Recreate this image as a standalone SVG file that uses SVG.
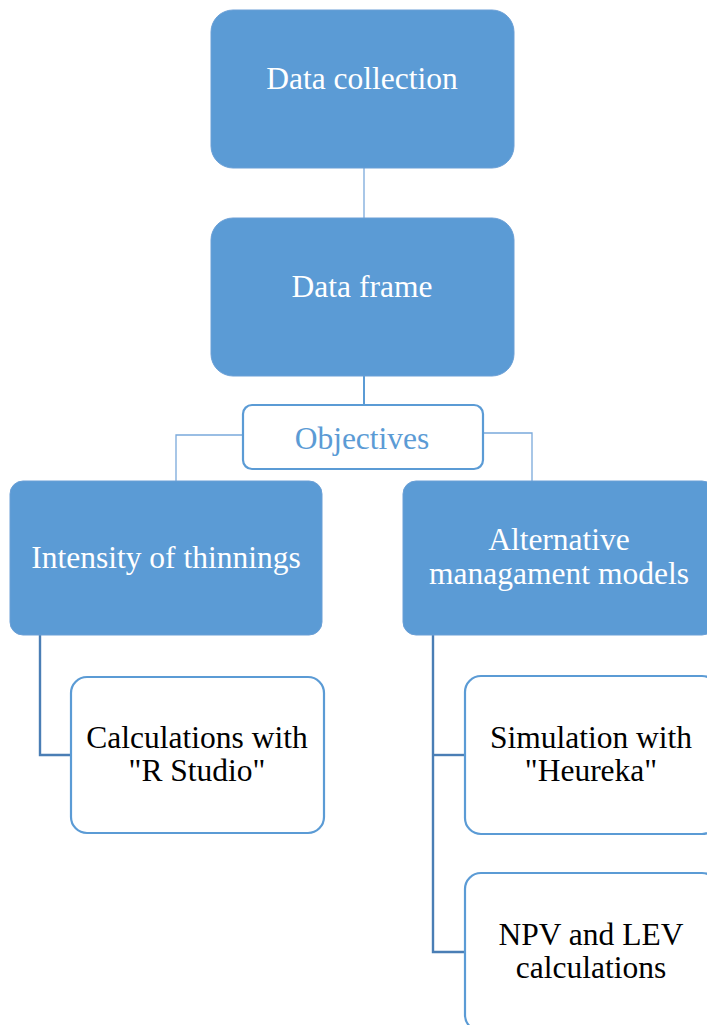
<svg xmlns="http://www.w3.org/2000/svg" width="707" height="1025" viewBox="0 0 707 1025">
  <style>
    .solid { fill: #5B9BD5; stroke: #6A9FD6; stroke-width: 1; }
    .outline { fill: #FFFFFF; stroke: #5B9BD5; stroke-width: 2.2; }
    .label { font-family: "Liberation Serif", "Times New Roman", serif; font-size: 31.5px; text-anchor: middle; }
    .light { fill: #FFFFFF; }
    .dark { fill: #000000; }
    .accent { fill: #5B9BD5; }
    .thin { fill: none; stroke: #7AA9DB; stroke-width: 1.3; }
    .branch { fill: none; stroke: #4A7EB5; stroke-width: 2.4; }
  </style>

  <!-- connectors -->
  <g id="connectors">
    <line class="thin" x1="364" y1="168" x2="364" y2="218"/>
    <line class="thin" x1="364" y1="376" x2="364" y2="405" style="stroke:#5B9BD5;stroke-width:2"/>
    <polyline class="thin" points="243,435 176,435 176,481"/>
    <polyline class="thin" points="483,433 532,433 532,481"/>
    <polyline class="branch" points="40,635 40,755 71,755"/>
    <polyline class="branch" points="433,635 433,952 465,952"/>
    <line class="branch" x1="433" y1="755" x2="465" y2="755"/>
  </g>

  <g id="data-collection">
    <rect class="solid" x="211" y="10" width="303" height="158" rx="22"/>
    <text class="label light" x="362" y="89">Data collection</text>
  </g>

  <g id="data-frame">
    <rect class="solid" x="211" y="218" width="303" height="158" rx="22"/>
    <text class="label light" x="362" y="297">Data frame</text>
  </g>

  <g id="objectives">
    <rect class="outline" x="243" y="405" width="240" height="64" rx="9"/>
    <text class="label accent" x="362" y="449">Objectives</text>
  </g>

  <g id="intensity">
    <rect class="solid" x="10" y="481" width="312" height="154" rx="13"/>
    <text class="label light" x="166" y="568">Intensity of thinnings</text>
  </g>

  <g id="alternative">
    <rect class="solid" x="403" y="481" width="312" height="154" rx="13"/>
    <text class="label light" x="559" y="550">Alternative</text>
    <text class="label light" x="559" y="584">managament models</text>
  </g>

  <g id="r-studio">
    <rect class="outline" x="71" y="677" width="253" height="156" rx="16"/>
    <text class="label dark" x="197" y="748">Calculations with</text>
    <text class="label dark" x="197" y="781">"R Studio"</text>
  </g>

  <g id="heureka">
    <rect class="outline" x="465" y="676" width="253" height="158" rx="16"/>
    <text class="label dark" x="591" y="748">Simulation with</text>
    <text class="label dark" x="591" y="781">"Heureka"</text>
  </g>

  <g id="npv-lev">
    <rect class="outline" x="465" y="873" width="253" height="158" rx="16"/>
    <text class="label dark" x="591" y="945">NPV and LEV</text>
    <text class="label dark" x="591" y="978">calculations</text>
  </g>
</svg>
